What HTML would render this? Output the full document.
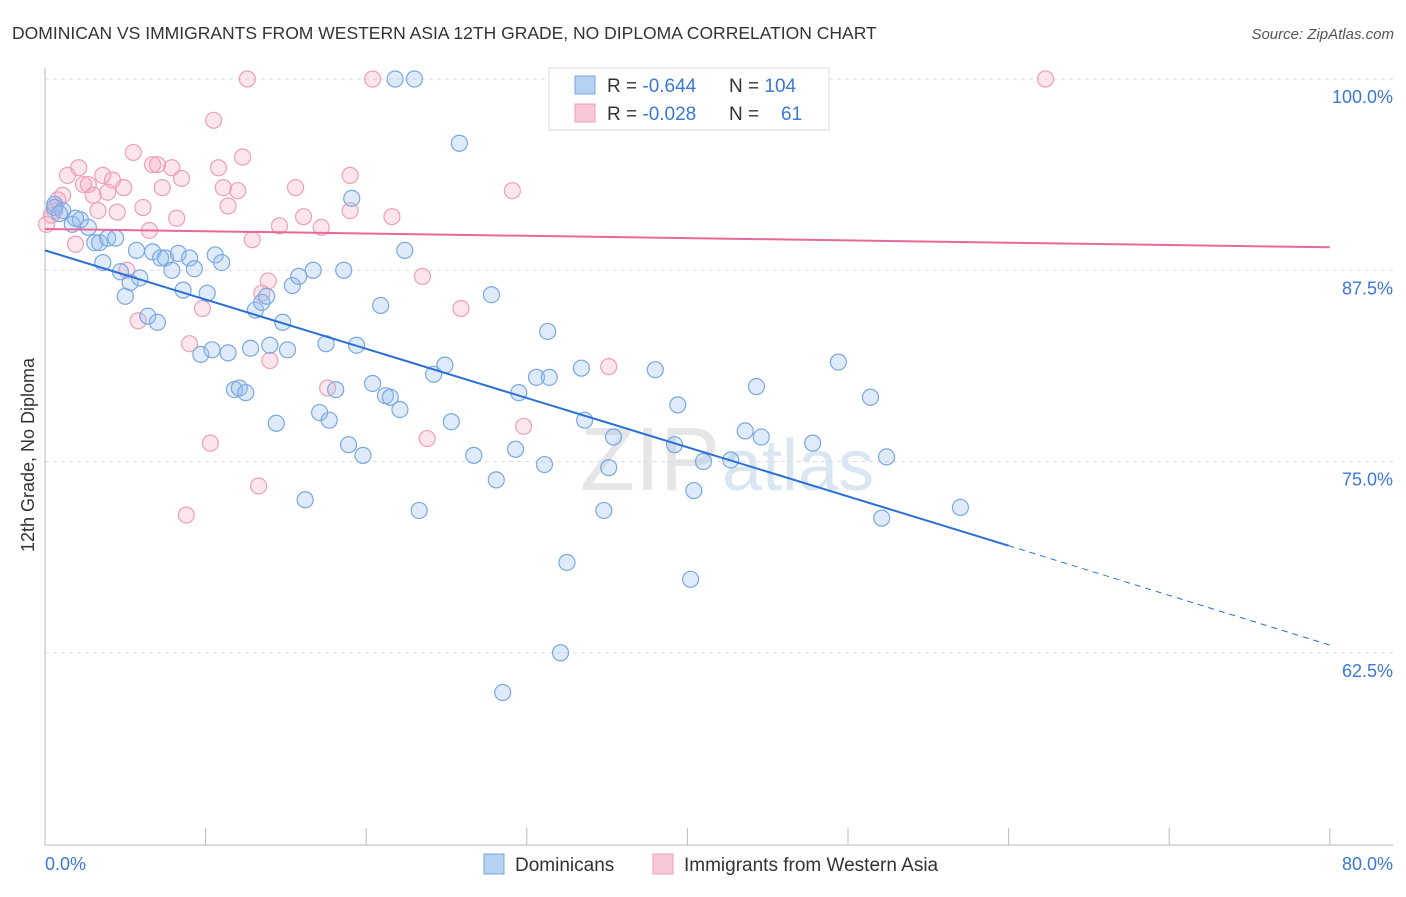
<!DOCTYPE html>
<html><head><meta charset="utf-8"><style>
body{margin:0;background:#fff;font-family:"Liberation Sans",sans-serif}
svg text{font-family:"Liberation Sans",sans-serif}
</style></head><body>
<svg width="1406" height="892" xmlns="http://www.w3.org/2000/svg" id="chart">
<text x="12" y="39" font-size="17.5" fill="#333">DOMINICAN VS IMMIGRANTS FROM WESTERN ASIA 12TH GRADE, NO DIPLOMA CORRELATION CHART</text>
<text x="1394" y="39" font-size="15" fill="#555" font-style="italic" text-anchor="end">Source: ZipAtlas.com</text>
<text x="720" y="490" font-size="90" fill="#e6e6e6" text-anchor="end" font-family="Liberation Serif">ZIP</text>
<text x="722" y="490" font-size="72" fill="#dbe6f3">atlas</text>
<g id="grid"></g>
<g id="axes"></g>
<g id="pts"></g>
<g id="trends"></g>
<text transform="translate(34,455) rotate(-90)" font-size="18" fill="#333" text-anchor="middle">12th Grade, No Diploma</text>
<text x="45" y="870" font-size="18" fill="#3a78d8">0.0%</text>
<text x="1393" y="870" font-size="18" fill="#3a78d8" text-anchor="end">80.0%</text>
<g>
<rect x="549" y="68" width="280" height="62" fill="#fff" stroke="#ddd"/>
<rect x="575" y="76" width="20" height="18" fill="#b7d1f3" stroke="#7aa8e0"/>
<rect x="575" y="104" width="20" height="18" fill="#f8c6d6" stroke="#eea0b8"/>
<text x="607" y="92" font-size="19" fill="#333">R = <tspan fill="#3a78d8">-0.644</tspan>  <tspan x="729">N = </tspan><tspan fill="#3a78d8">104</tspan></text>
<text x="607" y="120" font-size="19" fill="#333">R = <tspan fill="#3a78d8">-0.028</tspan>  <tspan x="729">N = </tspan><tspan fill="#3a78d8" x="781">61</tspan></text>
</g>
<g>
<rect x="484" y="854" width="20" height="20" fill="#b7d1f3" stroke="#7aa8e0"/>
<text x="515" y="871" font-size="19" fill="#333">Dominicans</text>
<rect x="653" y="854" width="20" height="20" fill="#f8c6d6" stroke="#eea0b8"/>
<text x="684" y="871" font-size="19" fill="#333">Immigrants from Western Asia</text>
</g>
</svg>
<script>
const yTicks=[100,87.5,75,62.5];
const yTickLabels=["100.0%","87.5%","75.0%","62.5%"];
const xTicks=[0,10,20,30,40,50,60,70,80];
const blueX=[0.6,1.1,1.7,2.2,2.7,3.1,3.4,3.9,4.4,3.6,4.7,5.0,5.3,5.9,5.7,6.7,7.2,7.5,7.9,8.3,8.6,9.0,9.3,10.1,10.6,11.0,6.4,7.0,9.7,10.4,11.4,11.8,12.1,12.5,12.8,13.1,13.5,13.8,14.0,14.4,14.8,15.1,15.4,15.8,16.2,16.7,17.1,17.5,17.7,18.1,18.6,18.9,19.1,19.4,19.8,20.4,20.9,21.2,21.5,22.1,21.8,23.0,22.4,23.3,24.2,24.9,25.3,25.8,26.7,27.8,28.1,28.5,29.3,29.5,30.6,31.1,31.3,31.4,32.1,32.5,33.4,33.6,34.8,35.1,35.4,38.0,39.2,39.4,40.2,40.4,41.0,42.7,43.6,44.3,44.6,47.8,49.4,51.4,52.1,52.4,57.0,0.6,0.9,1.9];
const blueY=[91.8,91.4,90.5,90.8,90.3,89.3,89.3,89.6,89.6,88.0,87.4,85.8,86.7,87.0,88.8,88.7,88.3,88.3,87.5,88.6,86.2,88.3,87.6,86.0,88.5,88.0,84.5,84.1,82.0,82.3,82.1,79.7,79.8,79.5,82.4,84.9,85.4,85.8,82.6,77.5,84.1,82.3,86.5,87.1,72.5,87.5,78.2,82.7,77.7,79.7,87.5,76.1,92.2,82.6,75.4,80.1,85.2,79.3,79.2,78.4,100,100,88.8,71.8,80.7,81.3,77.6,95.8,75.4,85.9,73.8,59.9,75.8,79.5,80.5,74.8,83.5,80.5,62.5,68.4,81.1,77.7,71.8,74.6,76.6,81.0,76.1,78.7,67.3,73.1,75.0,75.1,77.0,79.9,76.6,76.2,81.5,79.2,71.3,75.3,72.0,91.6,91.2,90.9];
const pinkX=[0.1,0.4,0.6,0.8,1.1,1.4,1.9,2.1,2.4,2.7,3.0,3.3,3.6,3.9,4.2,4.5,4.9,5.1,5.5,5.8,6.1,6.5,6.7,7.0,7.3,7.9,8.2,8.5,8.8,9.0,9.8,10.3,10.5,10.8,11.1,11.4,12.0,12.3,12.6,12.9,13.3,13.5,13.9,14.0,14.6,15.6,16.1,17.2,17.6,19.0,19.0,20.4,21.6,23.5,23.8,25.9,29.1,29.8,35.1,44.0,62.3];
const pinkY=[90.5,91.1,91.4,92.1,92.4,93.7,89.2,94.2,93.1,93.1,92.4,91.4,93.7,92.6,93.4,91.3,92.9,87.5,95.2,84.2,91.6,90.1,94.4,94.4,92.9,94.2,90.9,93.5,71.5,82.7,85.0,76.2,97.3,94.2,92.9,91.7,92.7,94.9,100,89.5,73.4,86.0,86.8,81.6,90.4,92.9,91.0,90.3,79.8,93.7,91.4,100,91.0,87.1,76.5,85.0,92.7,77.3,81.2,100,100];
const blueTrendX=[0,60,80];
const blueTrendY=[88.8,69.5,63.0];
const pinkTrendX=[0,80];
const pinkTrendY=[90.2,89.0];
const NS="http://www.w3.org/2000/svg";
const sx=v=>45+v*16.06;
const sy=v=>79+(100-v)*15.3;
function mk(tag,attrs,parent){const e=document.createElementNS(NS,tag);for(const k in attrs)e.setAttribute(k,attrs[k]);document.getElementById(parent).appendChild(e);return e;}
yTicks.forEach((t,i)=>{
  const l=mk('line',{x1:45,x2:1393,y1:sy(t),y2:sy(t),stroke:'#ddd','stroke-dasharray':'4,4'},'grid');
  
  
  const tx=mk('text',{x:1393,y:sy(t)+24,'font-size':18,fill:'#3a78d8','text-anchor':'end'},'grid');
  tx.textContent=yTickLabels[i];
  
  
});
const ax=mk('line',{x1:45,x2:45,y1:68,y2:845,stroke:'#bbb'},'axes');


const bx=mk('line',{x1:45,x2:1393,y1:845,y2:845,stroke:'#bbb'},'axes');


xTicks.forEach(t=>{
  const l=mk('line',{x1:sx(t),x2:sx(t),y1:828,y2:845,stroke:'#bbb'},'axes');
  
  
});
pinkX.forEach((x,i)=>{
  const c=mk('circle',{cx:sx(x),cy:sy(pinkY[i]),r:8,fill:'rgba(245,170,195,0.3)',stroke:'#eea0b8','stroke-width':1.2},'pts');
  
  
});
blueX.forEach((x,i)=>{
  const c=mk('circle',{cx:sx(x),cy:sy(blueY[i]),r:8,fill:'rgba(150,190,240,0.3)',stroke:'#7aa8e0','stroke-width':1.2},'pts');
  
  
});
const b1=mk('line',{x1:sx(blueTrendX[0]),y1:sy(blueTrendY[0]),x2:sx(blueTrendX[1]),y2:sy(blueTrendY[1]),stroke:'#2a6fd6','stroke-width':2},'trends');


const b2=mk('line',{x1:sx(blueTrendX[1]),y1:sy(blueTrendY[1]),x2:sx(blueTrendX[2]),y2:sy(blueTrendY[2]),stroke:'#2a6fd6','stroke-width':1,'stroke-dasharray':'6,5'},'trends');


const p1=mk('line',{x1:sx(pinkTrendX[0]),y1:sy(pinkTrendY[0]),x2:sx(pinkTrendX[1]),y2:sy(pinkTrendY[1]),stroke:'#e8689a','stroke-width':2},'trends');


</script>
</body></html>
